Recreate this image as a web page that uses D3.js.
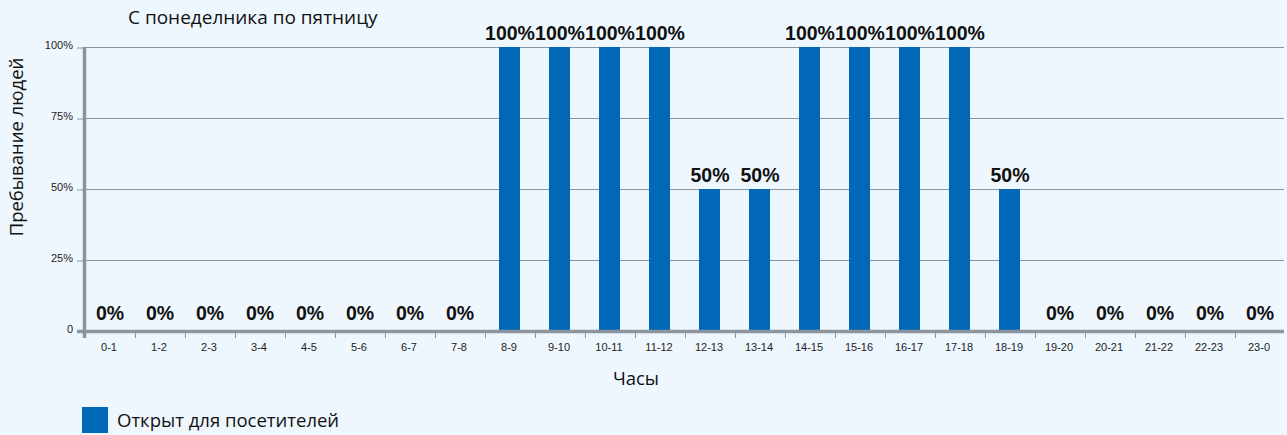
<!DOCTYPE html>
<html>
<head>
<meta charset="utf-8">
<script src="https://cdn.jsdelivr.net/npm/d3@7"></script>
<style>
  body { margin: 0; background: #eff7fe; }
  svg { display: block; }
</style>
</head>
<body>
<div id="chart"></div>
<script>

var hours = ["0-1", "1-2", "2-3", "3-4", "4-5", "5-6", "6-7", "7-8", "8-9", "9-10", "10-11", "11-12",
    "12-13", "13-14", "14-15", "15-16", "16-17", "17-18", "18-19", "19-20", "20-21", "21-22", "22-23", "23-0"];

var occupancy = [0, 0, 0, 0, 0, 0, 0, 0, 100, 100, 100, 100,
    50, 50, 100, 100, 100, 100, 50, 0, 0, 0, 0, 0];

var yTicks = [0, 25, 50, 75, 100];
var yTickLabels = ["0", "25%", "50%", "75%", "100%"];

var width = 1287, height = 435;

var margin = {
        top: 47,
        right: 3,
        bottom: 104,
        left: 84
    },
    innerW = width - margin.left - margin.right,
    innerH = height - margin.top - margin.bottom;

var svg = d3.select("#chart").append("svg")
    .attr("width", width)
    .attr("height", height)
    .style("font-family", "'Liberation Sans', Arial, sans-serif");

svg.append("rect")
    .attr("width", width)
    .attr("height", height)
    .attr("fill", "#eff7fe");

var g = svg.append("g")
    .attr("transform", "translate(" + margin.left + "," + margin.top + ")");

var x = d3.scaleBand()
    .domain(hours)
    .range([0, 1200])
    .paddingInner(0)
    .paddingOuter(0);

var y = d3.scaleLinear()
    .domain([0, 100])
    .range([innerH, 0]);

// grid lines
g.selectAll(".grid")
    .data(yTicks.slice(1))
    .enter().append("line")
    .attr("class", "grid")
    .attr("x1", 0)
    .attr("x2", innerW)
    .attr("y1", function (d) { return y(d) + 0.5; })
    .attr("y2", function (d) { return y(d) + 0.5; })
    .attr("stroke", "#8c959e")
    .attr("stroke-width", 1);

// y axis
var yAxis = d3.axisLeft(y)
    .tickValues(yTicks)
    .tickFormat(function (d, i) { return yTickLabels[i]; })
    .tickSize(7)
    .tickPadding(4);

var yG = g.append("g")
    .call(yAxis);
yG.select(".domain").remove();
yG.selectAll(".tick line")
    .attr("stroke", "#8c959e")
    .attr("transform", "translate(0,0.5)");
yG.selectAll(".tick text")
    .attr("fill", "#222")
    .attr("dy", "0.15em")
    .style("font-size", "11px");

// bars
g.selectAll(".bar")
    .data(occupancy)
    .enter().append("rect")
    .attr("class", "bar")
    .attr("x", function (d, i) {
        return x(hours[i]) + x.bandwidth() / 2 - 10;
    })
    .attr("width", 21)
    .attr("y", function (d) { return y(d); })
    .attr("height", function (d) { return innerH - y(d); })
    .attr("fill", "#0068b7");

// value labels
g.selectAll(".val")
    .data(occupancy)
    .enter().append("text")
    .attr("class", "val")
    .attr("x", function (d, i) { return x(hours[i]) + x.bandwidth() / 2 + 1; })
    .attr("y", function (d) { return y(d) - (d === 0 ? 11 : 7); })
    .attr("text-anchor", "middle")
    .style("font-size", "19.5px")
    .style("font-weight", "bold")
    .attr("fill", "#111")
    .text(function (d) { return d + "%"; });

// x axis
var xAxis = d3.axisBottom(x)
    .tickSize(0)
    .tickPadding(12);

var xG = g.append("g")
    .attr("transform", "translate(0," + innerH + ")")
    .call(xAxis);
xG.select(".domain").remove();
xG.selectAll(".tick text")
    .attr("fill", "#222")
    .style("font-size", "11px");

// tick marks between bands
g.selectAll(".xtick")
    .data(hours)
    .enter().append("line")
    .attr("class", "xtick")
    .attr("x1", function (d) { return x(d) + 1.5; })
    .attr("x2", function (d) { return x(d) + 1.5; })
    .attr("y1", innerH)
    .attr("y2", innerH + 7)
    .attr("stroke", "#8c959e")
    .attr("stroke-width", 1);

// baseline and left axis
g.append("line")
    .attr("x1", -7)
    .attr("x2", innerW)
    .attr("y1", innerH + 0.5)
    .attr("y2", innerH + 0.5)
    .attr("stroke", "#8c959e")
    .attr("stroke-width", 3.5);

g.append("line")
    .attr("x1", 0.5)
    .attr("x2", 0.5)
    .attr("y1", 0)
    .attr("y2", innerH + 7)
    .attr("stroke", "#8c959e")
    .attr("stroke-width", 3.5);

// titles
svg.append("text")
    .attr("x", 128)
    .attr("y", 24)
    .style("font-family", "'Open Sans', sans-serif")
    .style("font-size", "19px")
    .attr("fill", "#111")
    .text("С понеделника по пятницу");

svg.append("text")
    .attr("transform", "translate(23,147) rotate(-90)")
    .attr("text-anchor", "middle")
    .style("font-family", "'Open Sans', sans-serif")
    .style("font-size", "18.5px")
    .attr("fill", "#111")
    .text("Пребывание людей");

svg.append("text")
    .attr("x", 636)
    .attr("y", 385)
    .attr("text-anchor", "middle")
    .style("font-family", "'Open Sans', sans-serif")
    .style("font-size", "18.5px")
    .attr("fill", "#111")
    .text("Часы");

// legend
svg.append("rect")
    .attr("x", 82)
    .attr("y", 407)
    .attr("width", 26)
    .attr("height", 26)
    .attr("fill", "#0068b7");

svg.append("text")
    .attr("x", 117)
    .attr("y", 427)
    .style("font-family", "'Open Sans', sans-serif")
    .style("font-size", "18.5px")
    .attr("fill", "#111")
    .text("Открыт для посетителей");

</script>
</body>
</html>
